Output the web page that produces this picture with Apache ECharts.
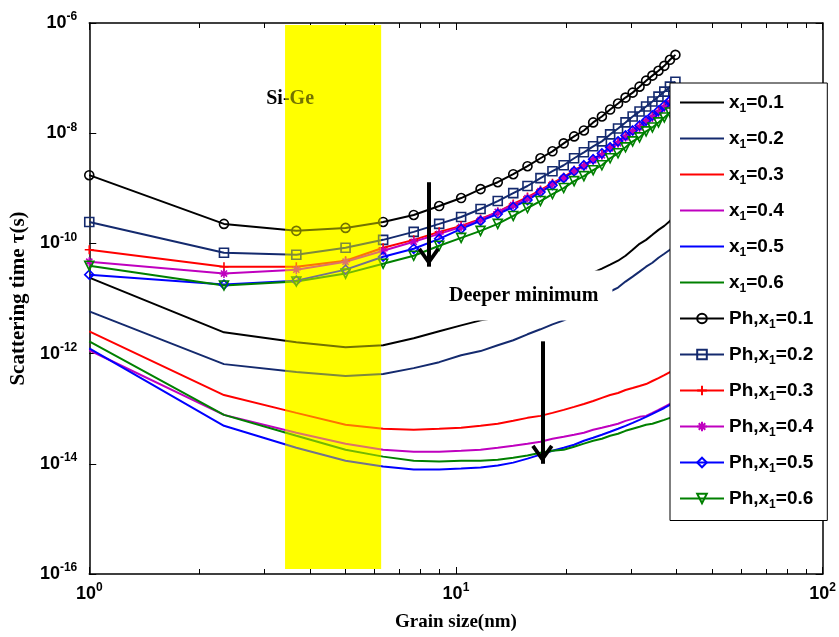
<!DOCTYPE html>
<html>
<head>
<meta charset="utf-8">
<title>Scattering time vs grain size</title>
<script src="https://cdn.jsdelivr.net/npm/echarts@6.0.0/dist/echarts.min.js"></script>
<style>
  html, body { margin: 0; padding: 0; background: #fff; }
  #chart { width: 839px; height: 637px; }
</style>
</head>
<body>
<div id="chart"></div>
<script>
// grain size (nm), same grid for every curve
const grainSize = [1, 2.33, 3.67, 5, 6.33, 7.67, 9, 10.33, 11.67, 13, 14.33, 15.67, 17, 18.33, 19.67,
  21, 22.33, 23.67, 25, 26.33, 27.67, 29, 30.33, 31.67, 33, 34.33, 35.67, 37, 38.33, 39.67];

// scattering time (s), total
const tau01 = [2.39e-11, 2.43e-12, 1.61e-12, 1.30e-12, 1.42e-12, 1.90e-12, 2.54e-12, 3.25e-12, 4.01e-12, 4.54e-12,
  5.83e-12, 7.48e-12, 9.59e-12, 1.23e-11, 1.58e-11, 2.03e-11, 2.50e-11, 2.95e-11, 3.48e-11, 4.11e-11,
  4.85e-11, 5.97e-11, 7.66e-11, 9.84e-11, 1.16e-10, 1.43e-10, 1.76e-10, 2.08e-10, 2.56e-10, 3.02e-10];
const tau02 = [5.83e-12, 6.44e-13, 4.62e-13, 3.91e-13, 4.25e-13, 5.45e-13, 6.99e-13, 9.36e-13, 1.11e-12, 1.42e-12,
  1.75e-12, 2.24e-12, 2.76e-12, 3.39e-12, 4.01e-12, 4.93e-12, 6.33e-12, 8.12e-12, 1.04e-11, 1.34e-11,
  1.58e-11, 2.03e-11, 2.50e-11, 3.07e-11, 3.78e-11, 4.46e-11, 5.50e-11, 6.49e-11, 7.66e-11, 9.05e-11];
const tau03 = [2.54e-12, 1.77e-13, 8.40e-14, 5.10e-14, 4.32e-14, 4.14e-14, 4.32e-14, 4.50e-14, 4.89e-14, 5.32e-14,
  6.02e-14, 6.82e-14, 7.41e-14, 8.40e-14, 9.51e-14, 1.08e-13, 1.22e-13, 1.38e-13, 1.57e-13, 1.77e-13,
  1.93e-13, 2.18e-13, 2.37e-13, 2.58e-13, 2.80e-13, 3.18e-13, 3.60e-13, 4.07e-13, 4.62e-13, 5.23e-13];
const tau04 = [1.15e-12, 7.73e-14, 3.66e-14, 2.32e-14, 1.80e-14, 1.66e-14, 1.66e-14, 1.73e-14, 1.80e-14, 1.96e-14,
  2.13e-14, 2.32e-14, 2.52e-14, 2.85e-14, 3.10e-14, 3.37e-14, 3.66e-14, 4.14e-14, 4.50e-14, 4.89e-14,
  5.32e-14, 6.02e-14, 6.54e-14, 7.11e-14, 7.41e-14, 8.40e-14, 9.51e-14, 1.08e-13, 1.22e-13, 1.38e-13];
const tau05 = [1.25e-12, 4.89e-14, 1.96e-14, 1.14e-14, 8.90e-15, 7.86e-15, 7.86e-15, 8.19e-15, 8.54e-15, 9.28e-15,
  1.05e-14, 1.24e-14, 1.47e-14, 1.73e-14, 1.96e-14, 2.22e-14, 2.62e-14, 2.97e-14, 3.37e-14, 3.81e-14,
  4.32e-14, 4.89e-14, 5.54e-14, 6.28e-14, 7.11e-14, 8.06e-14, 9.13e-14, 1.03e-13, 1.17e-13, 1.33e-13];
const tau06 = [1.67e-12, 7.73e-14, 3.23e-14, 1.80e-14, 1.35e-14, 1.14e-14, 1.10e-14, 1.14e-14, 1.14e-14, 1.19e-14,
  1.29e-14, 1.41e-14, 1.59e-14, 1.73e-14, 1.80e-14, 2.04e-14, 2.32e-14, 2.62e-14, 2.85e-14, 3.23e-14,
  3.51e-14, 3.97e-14, 4.32e-14, 4.69e-14, 5.10e-14, 5.32e-14, 5.78e-14, 6.28e-14, 6.82e-14, 7.41e-14];

// scattering time (s), phonon only
const phTau01 = [1.73e-9, 2.26e-10, 1.69e-10, 1.91e-10, 2.45e-10, 3.28e-10, 4.77e-10, 6.65e-10, 9.67e-10, 1.29e-9,
  1.80e-9, 2.52e-9, 3.51e-9, 4.69e-9, 6.54e-9, 8.75e-9, 1.12e-8, 1.57e-8, 2.01e-8, 2.69e-8,
  3.45e-8, 4.43e-8, 5.45e-8, 6.99e-8, 8.98e-8, 1.11e-7, 1.36e-7, 1.67e-7, 2.15e-7, 2.64e-7];
const phTau02 = [2.45e-10, 6.77e-11, 6.23e-11, 8.33e-11, 1.16e-10, 1.62e-10, 2.26e-10, 3.02e-10, 4.21e-10, 5.87e-10,
  8.19e-10, 1.10e-9, 1.53e-9, 2.04e-9, 2.62e-9, 3.51e-9, 4.50e-9, 5.78e-9, 7.11e-9, 9.51e-9,
  1.22e-8, 1.57e-8, 2.01e-8, 2.47e-8, 3.05e-8, 3.75e-8, 4.62e-8, 5.68e-8, 6.99e-8, 8.61e-8];
const phTau03 = [7.66e-11, 3.78e-11, 3.78e-11, 4.85e-11, 8.33e-11, 1.16e-10, 1.62e-10, 2.08e-10, 2.78e-10, 3.72e-10,
  5.19e-10, 6.94e-10, 9.28e-10, 1.24e-9, 1.59e-9, 2.13e-9, 2.62e-9, 3.37e-9, 4.14e-9, 5.54e-9,
  6.82e-9, 8.75e-9, 1.12e-8, 1.33e-8, 1.70e-8, 2.01e-8, 2.47e-8, 3.05e-8, 3.75e-8, 4.62e-8];
const phTau04 = [4.65e-11, 2.83e-11, 3.34e-11, 4.65e-11, 7.35e-11, 1.07e-10, 1.49e-10, 1.99e-10, 2.67e-10, 3.72e-10,
  4.97e-10, 6.65e-10, 8.90e-10, 1.19e-9, 1.53e-9, 2.04e-9, 2.52e-9, 3.23e-9, 3.97e-9, 5.32e-9,
  6.54e-9, 8.40e-9, 1.08e-8, 1.27e-8, 1.63e-8, 1.93e-8, 2.37e-8, 2.92e-8, 3.60e-8, 4.43e-8];
const phTau05 = [2.71e-11, 1.79e-11, 2.11e-11, 3.34e-11, 5.73e-11, 7.99e-11, 1.21e-10, 1.83e-10, 2.56e-10, 3.42e-10,
  4.58e-10, 6.12e-10, 8.54e-10, 1.14e-9, 1.53e-9, 2.04e-9, 2.62e-9, 3.37e-9, 4.32e-9, 5.54e-9,
  7.11e-9, 9.13e-9, 1.12e-8, 1.38e-8, 1.70e-8, 2.10e-8, 2.58e-8, 3.18e-8, 3.91e-8, 4.81e-8];
const phTau06 = [3.94e-11, 1.72e-11, 2.03e-11, 2.83e-11, 4.28e-11, 5.97e-11, 9.05e-11, 1.26e-10, 1.69e-10, 2.26e-10,
  3.15e-10, 4.39e-10, 5.87e-10, 7.86e-10, 1.01e-9, 1.35e-9, 1.66e-9, 2.13e-9, 2.62e-9, 3.51e-9,
  4.32e-9, 5.54e-9, 7.11e-9, 8.40e-9, 1.08e-8, 1.27e-8, 1.57e-8, 1.93e-8, 2.37e-8, 2.92e-8];

const totalNames = ['x1=0.1', 'x1=0.2', 'x1=0.3', 'x1=0.4', 'x1=0.5', 'x1=0.6'];
const phononNames = ['Ph,x1=0.1', 'Ph,x1=0.2', 'Ph,x1=0.3', 'Ph,x1=0.4', 'Ph,x1=0.5', 'Ph,x1=0.6'];
const xTicks = [1, 10, 100];
const yTicks = [1e-16, 1e-14, 1e-12, 1e-10, 1e-8, 1e-6];

// Si-Ge band: [x from, x to, tau from, tau to]
const siGeBand = [3.42, 6.25, 1.23e-16, 9.2e-7];
// text notes: [text, grain size, tau, boxed]
const notes = [['Si-Ge', 3.53, 4.25e-8, false], ['Deeper minimum', 15.3, 1.13e-11, true]];
// arrows: [grain size, tau start, tau end]
const arrows = [[8.43, 1.29e-9, 3.78e-11], [17.2, 1.67e-12, 1.0e-14]];

const colors = ['#000000', '#142a6e', '#ff0000', '#bf00bf', '#0000ff', '#008000'];
const markers = [
  'circle',
  'rect',
  'path://M5,0 L5,10 M0,5 L10,5',
  'path://M5,0 L5,10 M0,5 L10,5 M1.6,1.6 L8.4,8.4 M8.4,1.6 L1.6,8.4',
  'diamond',
  'path://M0,0 L10,0 L5,9 Z'
];
const chevron = 'path://M6,11 L12,19.5 L10.3,20.7 L6,14.6 L1.7,20.7 L0,19.5 Z M6,0 L6.01,0 L6,0.01 Z';

const sans = 'Liberation Sans';
const serif = 'Liberation Serif';

const chart = echarts.init(document.getElementById('chart'));

const expLabel = v => '10{sup|' + Math.round(Math.log10(v)) + '}';
const tickRich = {
  sup: { fontFamily: sans, fontWeight: 'bold', fontSize: 12, color: '#000', padding: [0, 0, 12, 0] }
};

function makeXAxis(position) {
  const bottom = position === 'bottom';
  return {
    type: 'log', logBase: 10, min: 1, max: 100, position: position,
    name: bottom ? 'Grain size(nm)' : '',
    nameLocation: 'middle', nameGap: 39,
    nameTextStyle: { fontFamily: serif, fontWeight: 'bold', fontSize: 19, color: '#000' },
    axisLine: { show: true, onZero: false, lineStyle: { color: '#000', width: 1.5 } },
    axisTick: { show: true, inside: true, length: 7, customValues: xTicks, lineStyle: { color: '#000', width: 1 } },
    minorTick: { show: true, splitNumber: 9, length: 5, lineStyle: { color: '#000', width: 1 } },
    splitLine: { show: false },
    minorSplitLine: { show: false },
    axisLabel: {
      show: bottom, customValues: xTicks, margin: 8, formatter: expLabel,
      fontFamily: sans, fontWeight: 'bold', fontSize: 18, color: '#000', rich: tickRich
    }
  };
}

function makeYAxis(position) {
  const left = position === 'left';
  return {
    type: 'log', logBase: 10, min: 1e-16, max: 1e-6, position: position,
    name: left ? 'Scattering time τ(s)' : '',
    nameLocation: 'middle', nameGap: 49,
    nameTextStyle: { fontFamily: serif, fontWeight: 'bold', fontSize: 21, color: '#000' },
    axisLine: { show: true, onZero: false, lineStyle: { color: '#000', width: 1.5 } },
    axisTick: { show: true, inside: true, length: 7, customValues: yTicks, lineStyle: { color: '#000', width: 1 } },
    minorTick: { show: false },
    splitLine: { show: false },
    axisLabel: {
      show: left, customValues: yTicks, margin: 12, formatter: expLabel,
      fontFamily: sans, fontWeight: 'bold', fontSize: 18, color: '#000', rich: tickRich
    }
  };
}

const pairs = arr => grainSize.map((x, i) => [x, arr[i]]);

const series = [];
[tau01, tau02, tau03, tau04, tau05, tau06].forEach((arr, i) => {
  series.push({
    type: 'line', name: totalNames[i], data: pairs(arr), z: 2,
    color: colors[i], symbol: 'none', silent: true,
    lineStyle: { color: colors[i], width: 2 }
  });
});
[phTau01, phTau02, phTau03, phTau04, phTau05, phTau06].forEach((arr, i) => {
  series.push({
    type: 'line', name: phononNames[i], data: pairs(arr), z: 2,
    color: colors[i], symbol: markers[i], symbolSize: 9, showAllSymbol: true, silent: true,
    lineStyle: { color: colors[i], width: 2 },
    itemStyle: { color: 'rgba(0,0,0,0)', borderColor: colors[i], borderWidth: 1.6 }
  });
});

// arrows hang on the first curve
series[0].markLine = {
  silent: true, symbol: ['none', chevron], symbolSize: [22, 38],
  lineStyle: { color: '#000', width: 4, type: 'solid' },
  itemStyle: { color: '#000' },
  label: { show: false },
  data: arrows.map(a => [{ coord: [a[0], a[1]] }, { coord: [a[0], a[2]] }])
};

function bandSeries(fill, z) {
  return {
    type: 'custom', z: z, silent: true,
    data: [siGeBand],
    encode: { x: [0, 1], y: [2, 3] },
    renderItem: (params, api) => {
      const p0 = api.coord([api.value(0), api.value(3)]);
      const p1 = api.coord([api.value(1), api.value(2)]);
      return {
        type: 'rect',
        shape: { x: p0[0], y: p0[1], width: p1[0] - p0[0], height: p1[1] - p0[1] },
        style: { fill: fill }
      };
    }
  };
}
series.push(bandSeries('#ffff00', 1));
series.push(bandSeries('rgba(255,255,0,0.45)', 10));

series.push({
  type: 'custom', z: 3, silent: true,
  data: notes.map(n => [n[1], n[2]]),
  encode: { x: 0, y: 1 },
  renderItem: (params, api) => {
    const n = notes[params.dataIndex];
    const p = api.coord([api.value(0), api.value(1)]);
    return {
      type: 'text', x: p[0], y: p[1],
      style: {
        text: n[0], fill: '#000', font: 'bold 20px "' + serif + '"',
        align: 'center', verticalAlign: 'middle',
        backgroundColor: n[3] ? '#fff' : 'transparent',
        padding: n[3] ? [15, 14] : 0
      }
    };
  }
});

// plain curves get a bare line in the legend, no marker
const legendData = totalNames.map(n => ({ name: n, itemStyle: { opacity: 0 } }))
  .concat(phononNames.map(n => ({ name: n })));

chart.setOption({
  animation: false,
  backgroundColor: '#fff',
  grid: { left: 84, right: 13, top: 23, bottom: 60 },
  xAxis: [makeXAxis('bottom'), makeXAxis('top')],
  yAxis: [makeYAxis('left'), makeYAxis('right')],
  legend: {
    data: legendData,
    orient: 'vertical', left: 670, top: 83, z: 12,
    backgroundColor: '#fff', borderColor: '#000', borderWidth: 1, borderRadius: 0,
    padding: [10, 14, 10, 9],
    itemWidth: 44, itemHeight: 12, itemGap: 14.5,
    selectedMode: false,
    formatter: n => n.replace('x1', 'x{sub|1}'),
    textStyle: {
      fontFamily: sans, fontWeight: 'bold', fontSize: 19, color: '#000',
      rich: { sub: { fontFamily: sans, fontWeight: 'bold', fontSize: 12, color: '#000', padding: [12, 0, 0, 0] } }
    }
  },
  series: series
});
</script>
</body>
</html>
